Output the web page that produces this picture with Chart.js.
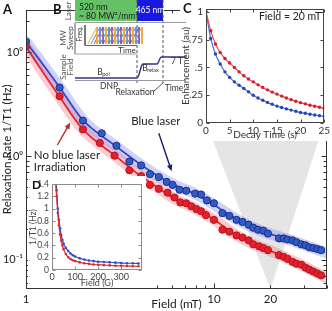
<!DOCTYPE html>
<html><head><meta charset="utf-8">
<script src="https://cdn.jsdelivr.net/npm/chart.js@4.4.0/dist/chart.umd.min.js"></script>
<style>
html,body{margin:0;padding:0;background:#fff}
#wrap{position:relative;width:332px;height:311px;overflow:hidden}
canvas{position:absolute;left:0;top:0}
.box{position:absolute;background:#fff}
#boxC{left:180px;top:0;width:152px;height:141px}
#boxD{left:28px;top:176px;width:118px;height:112px}
#cvB{left:36px;top:0}
</style></head>
<body><div id="wrap">
<canvas id="main" width="332" height="311"></canvas>
<div class="box" id="boxD"><canvas id="cvD" width="118" height="112"></canvas></div>
<div class="box" id="boxC"><canvas id="cvC" width="152" height="141"></canvas></div>
<canvas id="cvB" width="150" height="97"></canvas>
</div>
<script>
// ---- data: main panel (A), log-log ----
const fieldBlue = [1,1.51,2.01,2.53,3.03,3.55,4.10,4.57,5.09,5.61,6.03,6.56,7.13,7.95,8.55,9.19,10.0,11.1,12.1,13.2,14.2,15.3,16.2,17.2,18.3,19.4,22.2,23.5,24.7,26.2,27.5,29.2,30.7,32.2,33.8,35.5,37.2];
const rateBlue  = [1.27,0.459,0.220,0.166,0.126,0.0888,0.0814,0.0670,0.0628,0.0564,0.0528,0.0474,0.0464,0.0435,0.0426,0.0374,0.0351,0.0282,0.0265,0.0243,0.0232,0.0218,0.0204,0.0195,0.0191,0.0179,0.0161,0.0161,0.0157,0.0154,0.0148,0.0141,0.0138,0.0132,0.0130,0.0127,0.0124];
const fieldRed  = [1,1.51,2.01,2.47,2.96,3.55,4.10,4.57,5.09,5.67,6.17,6.63,7.13,7.58,8.07,8.55,9.07,10.0,11.1,12.1,13.2,14.2,15.3,16.2,17.4,18.3,19.4,22.2,23.5,24.7,26.2,27.5,29.2,30.7,32.2,33.8,35.5,37.2];
const rateRed   = [1.14,0.378,0.181,0.134,0.101,0.0731,0.0642,0.0528,0.0484,0.0444,0.0399,0.0358,0.0351,0.0328,0.0308,0.0294,0.0270,0.0243,0.0195,0.0187,0.0172,0.0164,0.0154,0.0141,0.0135,0.0130,0.0124,0.0111,0.0107,0.0102,0.00957,0.00917,0.00897,0.00841,0.00805,0.00771,0.00739,0.00708];
const fitField  = [1,1.5,2,3,4,5,6,8,10,13,16,20,25,30,39];
const fitBlue   = [1.27,0.47,0.225,0.125,0.085,0.065,0.054,0.043,0.034,0.025,0.0207,0.0177,0.0157,0.014,0.0118];
const fitRed    = [1.14,0.38,0.183,0.100,0.066,0.050,0.040,0.031,0.0245,0.0175,0.0143,0.0122,0.0102,0.0087,0.0068];
const xTickVals = [1,10,20], xTickText = ['1','10','20'];
const yTickVals = [1,0.1,0.01], yTickText = ['10\u2070','10\u2070','10\u207B\u00B9'];
const xMinor = [2,3,4,5,6,7,8,9,20,30,40];
const yMinor = [0.006,0.007,0.008,0.009,0.02,0.03,0.04,0.05,0.06,0.07,0.08,0.09,0.2,0.3,0.4,0.5,0.6,0.7,0.8,0.9,2];
const zoomField = 20;

// ---- data: inset C, decay at 20 mT ----
const decayTime = [0,1,2,3,4,5,6,7,8,9,10,11,12,13,14,15,16,17,18,19,20,21,22,23,24,25];
const decayRed  = [1.00,0.83,0.71,0.634,0.58,0.54,0.50,0.46,0.425,0.395,0.37,0.343,0.32,0.298,0.278,0.26,0.242,0.225,0.21,0.196,0.183,0.172,0.16,0.151,0.141,0.133];
const decayBlue = [1.00,0.76,0.62,0.53,0.46,0.41,0.37,0.34,0.31,0.28,0.25,0.225,0.205,0.185,0.168,0.152,0.139,0.127,0.116,0.105,0.095,0.087,0.079,0.072,0.066,0.06];
const cXTicks = [0,5,10,15,20,25];
const cYTicks = [0,0.25,0.5,0.75,1], cYText = ['0','.25','.5','.75','1'];

// ---- data: inset D, low field (G) ----
const lowField = [15,20,25,30,35,40,45,50,60,70,80,90,100,120,140,160,180,200,225,250,275,300,325,350,375];
const lowBlue  = [1.6,1.3,1.0,0.82,0.68,0.57,0.49,0.43,0.36,0.31,0.27,0.24,0.22,0.19,0.17,0.155,0.145,0.135,0.13,0.125,0.12,0.115,0.11,0.11,0.105];
const lowRed   = [1.45,1.2,0.93,0.73,0.58,0.48,0.40,0.34,0.26,0.21,0.18,0.16,0.145,0.125,0.11,0.10,0.09,0.085,0.08,0.075,0.07,0.068,0.065,0.062,0.06];
const dXTicks = [0,100,200,300];
const dYTicks = [0,0.2,0.4,0.6,0.8,1,1.2,1.4], dYText = ['0','0.2','0.4','0.6','0.8','1','1.2','1.4'];

// ---- data: schematic B ----
const sawOrange = [52,61,70,79,88,97];
const sawBlue   = [55,64,73,82,91];
const sawPurple = [58,67,76,85,94];
const fieldT = [39,101,102.5,104,105.5,107,121,122.5,124,125.5,150];
const fieldB = [78,78,76,71,66,64,64,62,58.5,57,57];

Chart.defaults.font.family = 'Lato, "Liberation Sans", sans-serif';
Chart.defaults.color = '#222';
Chart.defaults.animation = false;
Chart.defaults.plugins.legend.display = false;
Chart.defaults.plugins.tooltip.enabled = false;

const pts = (xs, ys) => xs.map((x, i) => ({x, y: ys[i]}));
const C_LEFT = 180, C_TOP = 0;

// frame + inward ticks on all four sides
const frameTicks = {
  id: 'frameTicks',
  afterDatasetsDraw(chart, args, o) {
    const {ctx, chartArea: a, scales: {x, y}} = chart;
    const L = Math.round(a.left) + .5, R = Math.round(a.right) - .5, T = Math.round(a.top) + .5, B = Math.round(a.bottom) - .5;
    ctx.save();
    ctx.strokeStyle = o.color; ctx.lineWidth = 1;
    ctx.strokeRect(L, T, R - L, B - T);
    ctx.beginPath();
    const xt = (v, len) => { const p = Math.round(x.getPixelForValue(v)) + .5; ctx.moveTo(p, B); ctx.lineTo(p, B - len); ctx.moveTo(p, T); ctx.lineTo(p, T + len); };
    const yt = (v, len) => { const p = Math.round(y.getPixelForValue(v)) + .5; ctx.moveTo(L, p); ctx.lineTo(L + len, p); ctx.moveTo(R, p); ctx.lineTo(R - len, p); };
    (o.xMajor || []).forEach(v => xt(v, o.major));
    (o.xMinor || []).forEach(v => xt(v, o.minor));
    (o.yMajor || []).forEach(v => yt(v, o.major));
    (o.yMinor || []).forEach(v => yt(v, o.minor));
    ctx.stroke();
    ctx.restore();
  }
};

function text(ctx, t, x, y, size, opt = {}) {
  ctx.save();
  ctx.font = (opt.bold ? 'bold ' : '') + size + 'px Lato, "Liberation Sans", sans-serif';
  ctx.fillStyle = opt.color || '#222';
  ctx.textAlign = opt.align || 'center';
  ctx.textBaseline = 'middle';
  ctx.translate(x, y);
  if (opt.rot) ctx.rotate(-Math.PI / 2);
  ctx.fillText(t, 0, 0);
  ctx.restore();
}
function arrow(ctx, x0, y0, x1, y1, color) {
  const ang = Math.atan2(y1 - y0, x1 - x0), h = 7;
  ctx.save();
  ctx.strokeStyle = color; ctx.fillStyle = color; ctx.lineWidth = 1.4;
  ctx.beginPath(); ctx.moveTo(x0, y0); ctx.lineTo(x1 - Math.cos(ang) * h * .8, y1 - Math.sin(ang) * h * .8); ctx.stroke();
  ctx.beginPath(); ctx.moveTo(x1, y1);
  ctx.lineTo(x1 - h * Math.cos(ang - .4), y1 - h * Math.sin(ang - .4));
  ctx.lineTo(x1 - h * Math.cos(ang + .4), y1 - h * Math.sin(ang + .4));
  ctx.closePath(); ctx.fill();
  ctx.restore();
}

// ---- C ----
const chartC = new Chart(document.getElementById('cvC'), {
  type: 'line',
  data: {datasets: [
    {data: pts(decayTime, decayRed), borderColor: '#ea4a52', borderWidth: 1.2, pointRadius: 1.7, pointBorderWidth: 0, pointBackgroundColor: '#d41e2a', tension: .3},
    {data: pts(decayTime, decayBlue), borderColor: '#4f6fd2', borderWidth: 1.2, pointRadius: 1.7, pointBorderWidth: 0, pointBackgroundColor: '#2446b4', tension: .3}
  ]},
  options: {
    responsive: false, layout: {padding: {top: 2, right: 5}},
    scales: {
      x: {type: 'linear', min: 0, max: 25, grid: {display: false, drawTicks: false}, border: {display: false},
          afterBuildTicks: s => { s.ticks = cXTicks.map(v => ({value: v})); }, afterFit: s => { s.height = 18; },
          ticks: {padding: 2, autoSkip: false, maxRotation: 0, font: {size: 10}, color: '#333'},
          title: {display: true, text: 'Decay Time (s)', font: {size: 10}, color: '#333', padding: {top: 0, bottom: 0}}},
      y: {min: 0, max: 1.025, grid: {display: false, drawTicks: false}, border: {display: false},
          afterBuildTicks: s => { s.ticks = cYTicks.map(v => ({value: v})); }, afterFit: s => { s.width = 26; },
          ticks: {padding: 3, autoSkip: false, font: {size: 10}, color: '#333', callback: (v, i) => cYText[i]},
          title: {display: true, text: 'Enhancement (au)', font: {size: 10}, color: '#333', padding: {top: 0, bottom: 0}}}
    },
    plugins: {frameTicks: {color: '#444', xMajor: cXTicks, yMajor: cYTicks, major: 3}}
  },
  plugins: [frameTicks, {id: 'cText', afterDraw(c) {
    text(c.ctx, 'C', 3, 9, 13, {bold: true, align: 'left', color: '#111'});
    text(c.ctx, 'Field = 20 mT', 110, 17, 10.5, {color: '#222'});
  }}]
});

// ---- D ----
new Chart(document.getElementById('cvD'), {
  type: 'line',
  data: {datasets: [
    {data: pts(lowField, lowRed), borderColor: '#e3252e', borderWidth: 1.2, pointRadius: 1.3, pointBorderWidth: 0, pointBackgroundColor: '#e3252e', tension: .3},
    {data: pts(lowField, lowBlue), borderColor: '#2d4fc2', borderWidth: 1.2, pointRadius: 1.3, pointBorderWidth: 0, pointBackgroundColor: '#2d4fc2', tension: .3}
  ]},
  options: {
    responsive: false, layout: {padding: {top: 5, right: 4}},
    scales: {
      x: {type: 'linear', min: 0, max: 390, grid: {display: false, drawTicks: false}, border: {display: false},
          afterBuildTicks: s => { s.ticks = dXTicks.map(v => ({value: v})); }, afterFit: s => { s.height = 18; },
          ticks: {padding: 2, autoSkip: false, maxRotation: 0, font: {size: 9}, color: '#444'},
          title: {display: true, text: 'Field (G)', font: {size: 9}, color: '#444', padding: {top: 0, bottom: 0}}},
      y: {min: 0, max: 1.4, grid: {display: false, drawTicks: false}, border: {display: false},
          afterBuildTicks: s => { s.ticks = dYTicks.map(v => ({value: v})); }, afterFit: s => { s.width = 24; },
          ticks: {padding: 3, autoSkip: false, font: {size: 8.5}, color: '#444', callback: (v, i) => dYText[i]},
          title: {display: true, text: '1/T1 (Hz)', font: {size: 8.5}, color: '#444', padding: {top: 0, bottom: 0}}}
    },
    plugins: {frameTicks: {color: '#8c8c8c', xMajor: dXTicks, yMajor: dYTicks, major: 3}}
  },
  plugins: [frameTicks, {id: 'dText', afterDraw(c) {
    text(c.ctx, 'D', 4, 9, 12, {bold: true, align: 'left', color: '#111'});
  }}]
});

// ---- B (schematic) ----
const saw = starts => starts.flatMap(s => [{x: s, y: 44}, {x: s + 9, y: 27}, {x: s + 9, y: 44}]);
const seg = (color, data, extra = {}) => Object.assign({data, borderColor: color, borderWidth: 1, pointRadius: 0, tension: 0}, extra);
new Chart(document.getElementById('cvB'), {
  type: 'line',
  data: {datasets: [
    seg('#9a9a9a', [{x: 39, y: 22.5}, {x: 150, y: 22.5}]),
    seg('#9a9a9a', [{x: 39, y: 80.5}, {x: 150, y: 80.5}]),
    seg('#a0a0a0', [{x: 39, y: 23}, {x: 39, y: 54}, {x: 101, y: 54}]),
    seg('#666', [{x: 49, y: 25}, {x: 49, y: 45.5}, {x: 101, y: 45.5}]),
    seg('#f2a33a', saw(sawOrange)),
    seg('#4a8fe0', saw(sawBlue)),
    seg('#7d4fae', saw(sawPurple)),
    seg('#3c2d85', pts(fieldT, fieldB), {borderWidth: 1.4, cubicInterpolationMode: 'monotone'}),
    seg('#555', [{x: 101, y: 0}, {x: 101, y: 84}], {borderDash: [3, 2]}),
    seg('#555', [{x: 127, y: 0}, {x: 127, y: 84}], {borderDash: [3, 2]}),
    seg('#555', [{x: 117, y: 92}, {x: 127, y: 83}])
  ]},
  options: {
    responsive: false, layout: {padding: 0},
    scales: {x: {type: 'linear', min: 0, max: 150, display: false}, y: {min: 0, max: 97, reverse: true, display: false}}
  },
  plugins: [{id: 'schem',
    beforeDatasetsDraw(c) {
      const {ctx, scales: {x, y}} = c;
      const rect = (x0, x1, y0, y1, col) => { ctx.fillStyle = col; ctx.fillRect(x.getPixelForValue(x0), y.getPixelForValue(y0), x.getPixelForValue(x1) - x.getPixelForValue(x0), y.getPixelForValue(y1) - y.getPixelForValue(y0)); };
      rect(39, 101, 0, 21, '#66c166');
      rect(101, 127, 0, 21, '#1818e0');
    },
    afterDraw(c) {
      const ctx = c.ctx, g = '#555';
      text(ctx, 'B', 17, 10, 13, {bold: true, align: 'left', color: '#111'});
      text(ctx, 'Laser', 32, 11, 8, {rot: true, color: g});
      text(ctx, 'MW', 27, 38, 8, {rot: true, color: g});
      text(ctx, 'Sweep', 34, 38, 8, {rot: true, color: g});
      text(ctx, 'Sample', 27, 67, 8, {rot: true, color: g});
      text(ctx, 'Field', 34, 67, 8, {rot: true, color: g});
      text(ctx, '520 nm', 43, 7, 8.5, {align: 'left'});
      text(ctx, '~ 80 MW\u00B2/mm\u00B2', 43, 16, 8.5, {align: 'left'});
      text(ctx, '465 nm', 114, 10, 8.5, {color: '#fff'});
      text(ctx, 'Freq.', 44, 34, 7, {rot: true, color: '#333'});
      text(ctx, 'Time', 91, 50, 8, {color: '#333'});
      text(ctx, 'B', 64, 72, 8.5, {color: '#333'}); text(ctx, 'pol', 70, 74, 5.5, {color: '#333'});
      text(ctx, 'B', 109, 68, 8.5, {color: '#333'}); text(ctx, 'relax', 117, 70, 5.5, {color: '#333'});
      text(ctx, '7 T', 141, 61, 8.5, {color: '#333'});
      text(ctx, 'DNP', 73, 86, 8.5, {color: '#333'});
      text(ctx, 'Relaxation', 99, 92, 8.5, {color: '#333'});
      text(ctx, 'Time', 138, 88, 8.5, {color: '#333'});
    }
  }]
});

// ---- A (main) ----
const wedge = {
  id: 'wedge',
  beforeDatasetsDraw(chart) {
    const a = chart.chartArea, c = chartC.chartArea, ctx = chart.ctx;
    const apex = chart.scales.x.getPixelForValue(zoomField);
    ctx.save();
    ctx.beginPath(); ctx.rect(a.left, a.top, a.right - a.left, a.bottom - a.top); ctx.clip();
    ctx.fillStyle = '#e5e5e5';
    ctx.beginPath();
    ctx.moveTo(C_LEFT + c.left, C_TOP + c.bottom);
    ctx.lineTo(C_LEFT + c.right, C_TOP + c.bottom);
    ctx.lineTo(apex, a.bottom);
    ctx.closePath(); ctx.fill();
    ctx.restore();
  }
};
const notes = {
  id: 'notes',
  afterDraw(chart) {
    const {ctx, scales: {x, y}} = chart;
    const P = (f, r) => [x.getPixelForValue(f), y.getPixelForValue(r)];
    text(ctx, 'A', 3, 10, 13, {bold: true, align: 'left', color: '#111'});
    text(ctx, 'No blue laser', ...P(1.10, 0.101), 11.5, {align: 'left', color: '#222'});
    text(ctx, 'Irradiation', ...P(1.10, 0.078), 11.5, {align: 'left', color: '#222'});
    text(ctx, 'Blue laser', ...P(4.91, 0.215), 11.5, {color: '#222'});
    arrow(ctx, ...P(1.47, 0.128), ...P(1.72, 0.211), '#c4262e');
    arrow(ctx, ...P(5.09, 0.166), ...P(5.96, 0.0715), '#1a1a6e');
  }
};
new Chart(document.getElementById('main'), {
  type: 'line',
  data: {datasets: [
    {data: pts(fitField, fitBlue), borderColor: 'rgba(120,128,238,0.35)', borderWidth: 11, pointRadius: 0, cubicInterpolationMode: 'monotone', borderCapStyle: 'round', order: 3},
    {data: pts(fitField, fitRed), borderColor: 'rgba(242,110,120,0.35)', borderWidth: 11, pointRadius: 0, cubicInterpolationMode: 'monotone', borderCapStyle: 'round', order: 3},
    {data: pts(fitField, fitBlue), borderColor: '#3c47c8', borderWidth: 1.8, pointRadius: 0, cubicInterpolationMode: 'monotone', order: 2},
    {data: pts(fitField, fitRed), borderColor: '#e4262f', borderWidth: 1.8, pointRadius: 0, cubicInterpolationMode: 'monotone', order: 2},
    {data: pts(fieldBlue, rateBlue), showLine: false, pointRadius: 3.6, pointBackgroundColor: '#2f5cc4', pointBorderColor: '#1b2b86', pointBorderWidth: 1, order: 1},
    {data: pts(fieldRed, rateRed), showLine: false, pointRadius: 3.6, pointBackgroundColor: '#e2202c', pointBorderColor: '#b3141d', pointBorderWidth: 1, order: 0}
  ]},
  options: {
    responsive: false, layout: {padding: {top: 1, right: 1}},
    scales: {
      x: {type: 'logarithmic', min: 1, max: 40, grid: {display: false, drawTicks: false}, border: {display: false},
          afterBuildTicks: s => { s.ticks = xTickVals.map(v => ({value: v})); }, afterFit: s => { s.height = 22; },
          ticks: {padding: 3, autoSkip: false, maxRotation: 0, font: {size: 11.5}, color: '#222', callback: (v, i) => xTickText[i]},
          title: {display: true, text: 'Field (mT)', font: {size: 12}, color: '#222', padding: {top: 0, bottom: 0}}},
      y: {type: 'logarithmic', min: 0.00523, max: 2.59, grid: {display: false, drawTicks: false}, border: {display: false},
          afterBuildTicks: s => { s.ticks = yTickVals.map(v => ({value: v})); }, afterFit: s => { s.width = 26; },
          ticks: {padding: 3, autoSkip: false, font: {size: 11}, color: '#222', callback: (v, i) => yTickText[i]},
          title: {display: true, text: 'Relaxation Rate 1/T1 (Hz)', font: {size: 11.5}, color: '#222', padding: {top: 0, bottom: 0}}}
    },
    plugins: {frameTicks: {color: '#333', xMajor: [1, 10], xMinor, yMajor: yTickVals, yMinor, major: 5, minor: 3}}
  },
  plugins: [wedge, frameTicks, notes]
});
</script>
</body></html>
